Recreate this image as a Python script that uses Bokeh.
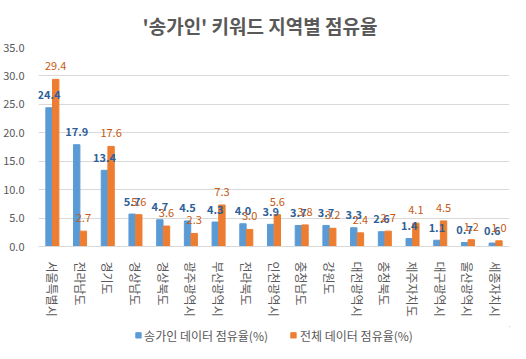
import math
from bokeh.plotting import figure
from bokeh.layouts import column
from bokeh.models import (ColumnDataSource, FactorRange, NumeralTickFormatter,
                          Legend, LegendItem, FixedTicker)
from bokeh.transform import dodge
from bokeh.core.properties import value
from bokeh.embed import file_html
from bokeh.resources import INLINE

title_text = "'송가인' 키워드 지역별 점유율"
regions = ["서울특별시", "전라남도", "경기도", "경상남도", "경상북도", "광주광역시",
           "부산광역시", "전라북도", "인천광역시", "충청남도", "강원도", "대전광역시",
           "충청북도", "제주자치도", "대구광역시", "울산광역시", "세종자치시"]
songgain_share = [24.4, 17.9, 13.4, 5.7, 4.7, 4.5, 4.3, 4.0, 3.9, 3.7, 3.7, 3.3,
                  2.6, 1.4, 1.1, 0.7, 0.6]
total_share = [29.4, 2.7, 17.6, 5.6, 3.6, 2.3, 7.3, 3.0, 5.6, 3.8, 3.2, 2.4,
               2.7, 4.1, 4.5, 1.2, 1.0]
series_names = ["송가인 데이터 점유율(%)", "전체 데이터 점유율(%)"]
y_ticks = [0, 5, 10, 15, 20, 25, 30, 35]

FONT = "Noto Sans CJK KR"
BLUE = "#5B9BD5"
ORANGE = "#ED7D31"
GRAY = "#595959"

src = ColumnDataSource(dict(
    region=regions,
    a=songgain_share,
    b=total_share,
    a_lbl=[f"{v:.1f}" for v in songgain_share],
    b_lbl=[f"{v:.1f}" for v in total_share],
))

fig = figure(x_range=FactorRange(*regions), y_range=(0, 35),
             width=510, height=326, output_backend="svg", toolbar_location=None,
             min_border_left=29, min_border_right=1, min_border_top=44,
             min_border_bottom=80)

fig.title.text = title_text
fig.title.align = "left"
fig.title.offset = 104
fig.title.standoff = 18
fig.title.text_font = FONT
fig.title.text_font_size = "19px"
fig.title.text_font_style = "bold"
fig.title.text_color = GRAY

r1 = fig.vbar(x=dodge("region", -0.12, range=fig.x_range), top="a", width=0.23,
              source=src, color=BLUE)
r2 = fig.vbar(x=dodge("region", 0.12, range=fig.x_range), top="b", width=0.23,
              source=src, color=ORANGE)

fig.text(x=dodge("region", -0.12, range=fig.x_range), y="a", text="a_lbl", source=src,
         text_align="center", text_baseline="middle", y_offset=-13,
         text_font=value(FONT), text_font_style="bold", text_font_size="11px",
         text_color="#2F5F98")
fig.text(x=dodge("region", 0.12, range=fig.x_range), y="b", text="b_lbl", source=src,
         text_align="center", text_baseline="middle", y_offset=-13,
         text_font=value(FONT), text_font_size="11px", text_color="#C55A11")

fig.xaxis.major_label_orientation = -math.pi / 2
fig.xaxis.major_label_text_font = FONT
fig.xaxis.major_label_text_font_size = "12px"
fig.xaxis.major_label_text_color = GRAY
fig.xaxis.major_tick_line_color = None
fig.xaxis.minor_tick_line_color = None
fig.xaxis.axis_line_color = "#D9D9D9"
fig.xaxis.major_label_standoff = 9

fig.yaxis.ticker = FixedTicker(ticks=y_ticks)
fig.yaxis.formatter = NumeralTickFormatter(format="0.0")
fig.yaxis.major_label_text_font = FONT
fig.yaxis.major_label_text_font_size = "11px"
fig.yaxis.major_label_text_color = GRAY
fig.yaxis.major_tick_line_color = None
fig.yaxis.minor_tick_line_color = None
fig.yaxis.axis_line_color = None
fig.yaxis.major_label_standoff = 8

fig.xgrid.grid_line_color = None
fig.ygrid.grid_line_color = "#D9D9D9"
fig.outline_line_color = None

# legend strip below the chart (swatch renderers sit outside the visible range)
lf = figure(width=510, height=17, output_backend="svg", toolbar_location=None,
            x_range=(0, 1), y_range=(0, 1), min_border=0,
            x_axis_location=None, y_axis_location=None)
lf.xgrid.grid_line_color = None
lf.ygrid.grid_line_color = None
lf.outline_line_color = None
d1 = lf.vbar(x=[5], top=[5], bottom=[4], width=1, color=BLUE)
d2 = lf.vbar(x=[5], top=[5], bottom=[4], width=1, color=ORANGE)
legend = Legend(items=[LegendItem(label=series_names[0], renderers=[d1]),
                       LegendItem(label=series_names[1], renderers=[d2])],
                orientation="horizontal", location="center",
                border_line_color=None, background_fill_alpha=0,
                label_text_font=FONT, label_text_font_size="12px",
                label_text_color=GRAY, glyph_width=7, glyph_height=7,
                label_height=15, spacing=22, label_standoff=3, padding=0, margin=0)
lf.add_layout(legend)

p = column(fig, lf, spacing=0)
open("out.html", "w").write(file_html(p, INLINE))
